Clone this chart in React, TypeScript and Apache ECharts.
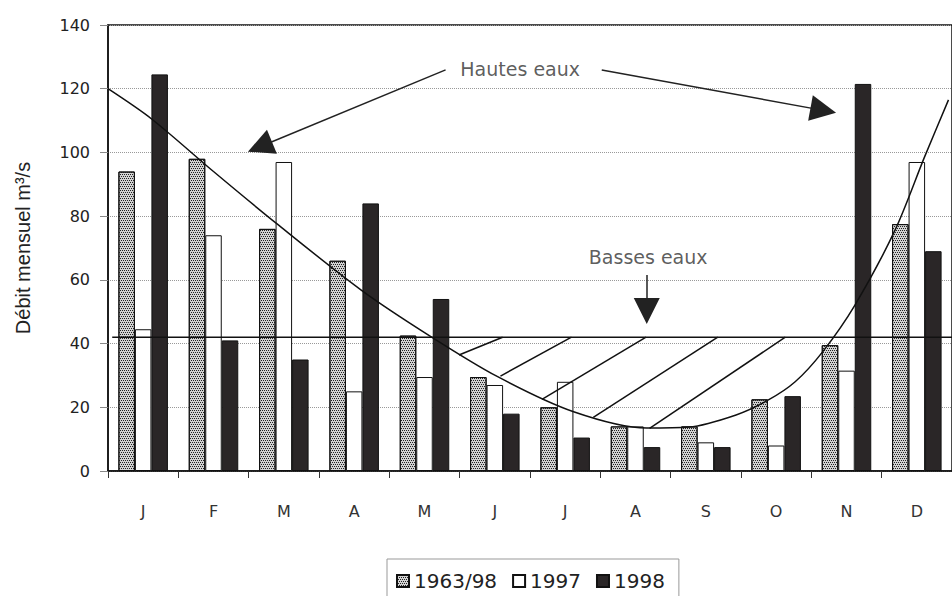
import React, { useEffect, useRef } from "react";
import * as echarts from "echarts";

const months = ["J", "F", "M", "A", "M", "J", "J", "A", "S", "O", "N", "D"];
const seriesNames = ["1963/98", "1997", "1998"];
const mean6398 = [94, 98, 76, 66, 42.5, 29.5, 20, 14, 14, 22.5, 39.5, 77.5];
const y1997 = [44.5, 74, 97, 25, 29.5, 27, 28, 14, 9, 8, 31.5, 97];
const y1998 = [124.5, 41, 35, 84, 54, 18, 10.5, 7.5, 7.5, 23.5, 121.5, 69];
const yTicks = [0, 20, 40, 60, 80, 100, 120, 140];

// hand-drawn regime curve (x in month units from left edge, y in m3/s)
const curvePts = [
  [0, 120], [0.62, 110.5], [1.5, 94], [2.39, 77.8], [3.6, 56.8], [4.59, 42.2],
  [5.54, 29.6], [6.62, 18.6], [7.66, 13.5], [8.26, 13.8], [8.93, 17.6],
  [9.39, 22.3], [9.77, 28.0], [10.16, 37.4], [10.62, 52.1], [11.19, 75.6],
  [11.61, 98.6], [11.95, 116.5],
];
const lowWaterLevel = 42;
const hatchSegs = [
  [[4.99, 36.4], [5.61, 42]],
  [[5.58, 29.8], [6.59, 42]],
  [[6.17, 22.5], [7.65, 42]],
  [[6.9, 16.8], [8.67, 42]],
  [[7.7, 13.4], [9.63, 42]],
];
const arrowSegs = [
  [[4.8, 125.9], [2.16, 101.8]],
  [[7.02, 125.9], [10.17, 113.2]],
  [[7.66, 61.5], [7.66, 50.2]],
];
const annotations = [
  { text: "Hautes eaux", at: [5.86, 126.1] },
  { text: "Basses eaux", at: [7.68, 67.3] },
];

export default function App() {
  const ref = useRef<HTMLDivElement>(null);
  useEffect(() => {
    document.body.style.margin = "0";
    const chart = echarts.init(ref.current!, null, { renderer: "svg" });
    const font = "DejaVu Sans";
    const barBase = {
      type: "bar" as const,
      xAxisIndex: 0,
      yAxisIndex: 0,
      barWidth: 16.5,
      barGap: "0%",
    };
    chart.setOption({
      animation: false,
      backgroundColor: "#fff",
      textStyle: { fontFamily: font },
      grid: {
        left: 108,
        top: 25,
        width: 849.6,
        height: 446,
        show: true,
        borderColor: "#111",
        borderWidth: 1.5,
        backgroundColor: "transparent",
      },
      legend: {
        data: seriesNames,
        left: 387,
        top: 559,
        icon: "rect",
        itemWidth: 12,
        itemHeight: 12,
        itemGap: 15,
        padding: [12, 14, 12, 9],
        borderColor: "#999",
        borderWidth: 1,
        textStyle: { fontSize: 20, color: "#222", fontFamily: font },
      },
      xAxis: [
        {
          type: "category",
          data: months,
          axisLine: { show: true, lineStyle: { color: "#111", width: 1.5 } },
          axisTick: { show: true, length: 7, lineStyle: { color: "#333" } },
          axisLabel: { margin: 32, fontSize: 16, color: "#333", fontFamily: font },
          splitLine: { show: false },
        },
        {
          type: "value",
          min: 0,
          max: 12,
          show: false,
        },
      ],
      yAxis: {
        type: "value",
        min: 0,
        max: 140,
        interval: 20,
        name: "Débit mensuel m³/s",
        nameLocation: "middle",
        nameGap: 75,
        nameTextStyle: { fontSize: 20, color: "#222", fontFamily: "Liberation Sans" },
        axisLine: { show: true, lineStyle: { color: "#111", width: 1.5 } },
        axisTick: { show: true, length: 8, lineStyle: { color: "#888" } },
        axisLabel: {
          margin: 18,
          fontSize: 16,
          color: "#222",
          fontFamily: font,
          formatter: (v: number) => (yTicks.includes(v) ? String(v) : ""),
        },
        splitLine: { show: true, lineStyle: { type: "dotted", color: "#999", width: 1 } },
      },
      series: [
        {
          ...barBase,
          name: seriesNames[0],
          data: mean6398,
          itemStyle: {
            color: "#d2d2d2",
            borderColor: "#111",
            borderWidth: 1,
            decal: {
              symbol: "rect",
              symbolSize: 1,
              color: "#222",
              dashArrayX: [[1, 1], [0, 1, 1, 0]],
              dashArrayY: [1, 1],
            },
          },
        },
        {
          ...barBase,
          name: seriesNames[1],
          data: y1997,
          itemStyle: { color: "#fff", borderColor: "#111", borderWidth: 1 },
        },
        {
          ...barBase,
          name: seriesNames[2],
          data: y1998,
          itemStyle: { color: "#2a2627", borderColor: "#111", borderWidth: 1 },
        },
        {
          type: "line",
          xAxisIndex: 1,
          yAxisIndex: 0,
          data: curvePts,
          smooth: 0.3,
          symbol: "none",
          lineStyle: { color: "#111", width: 1.5 },
          z: 5,
        },
        {
          type: "line",
          xAxisIndex: 1,
          yAxisIndex: 0,
          data: [[0.06, lowWaterLevel], [12, lowWaterLevel]],
          symbol: "none",
          lineStyle: { color: "#111", width: 1.5 },
          z: 5,
        },
        {
          type: "lines",
          coordinateSystem: "cartesian2d",
          xAxisIndex: 1,
          yAxisIndex: 0,
          data: hatchSegs.map((c) => ({ coords: c })),
          symbol: "none",
          lineStyle: { color: "#111", width: 1.5, opacity: 1 },
          z: 5,
        },
        {
          type: "lines",
          coordinateSystem: "cartesian2d",
          xAxisIndex: 1,
          yAxisIndex: 0,
          data: arrowSegs.map((c) => ({ coords: c })),
          symbol: ["none", "triangle"],
          symbolSize: [16, 26],
          lineStyle: { color: "#222", width: 1.5, opacity: 1 },
          itemStyle: { color: "#222" },
          z: 6,
        },
        {
          type: "scatter",
          xAxisIndex: 1,
          yAxisIndex: 0,
          data: annotations.map((a) => ({ value: a.at, name: a.text })),
          symbolSize: 0,
          label: {
            show: true,
            position: "inside",
            formatter: (p: any) => p.name,
            fontSize: 19,
            color: "#333",
            fontFamily: font,
            backgroundColor: "#fff",
            padding: [0, 4],
          },
          z: 7,
        },
      ],
    });
    return () => chart.dispose();
  }, []);
  return <div ref={ref} style={{ width: 952, height: 596 }} />;
}
